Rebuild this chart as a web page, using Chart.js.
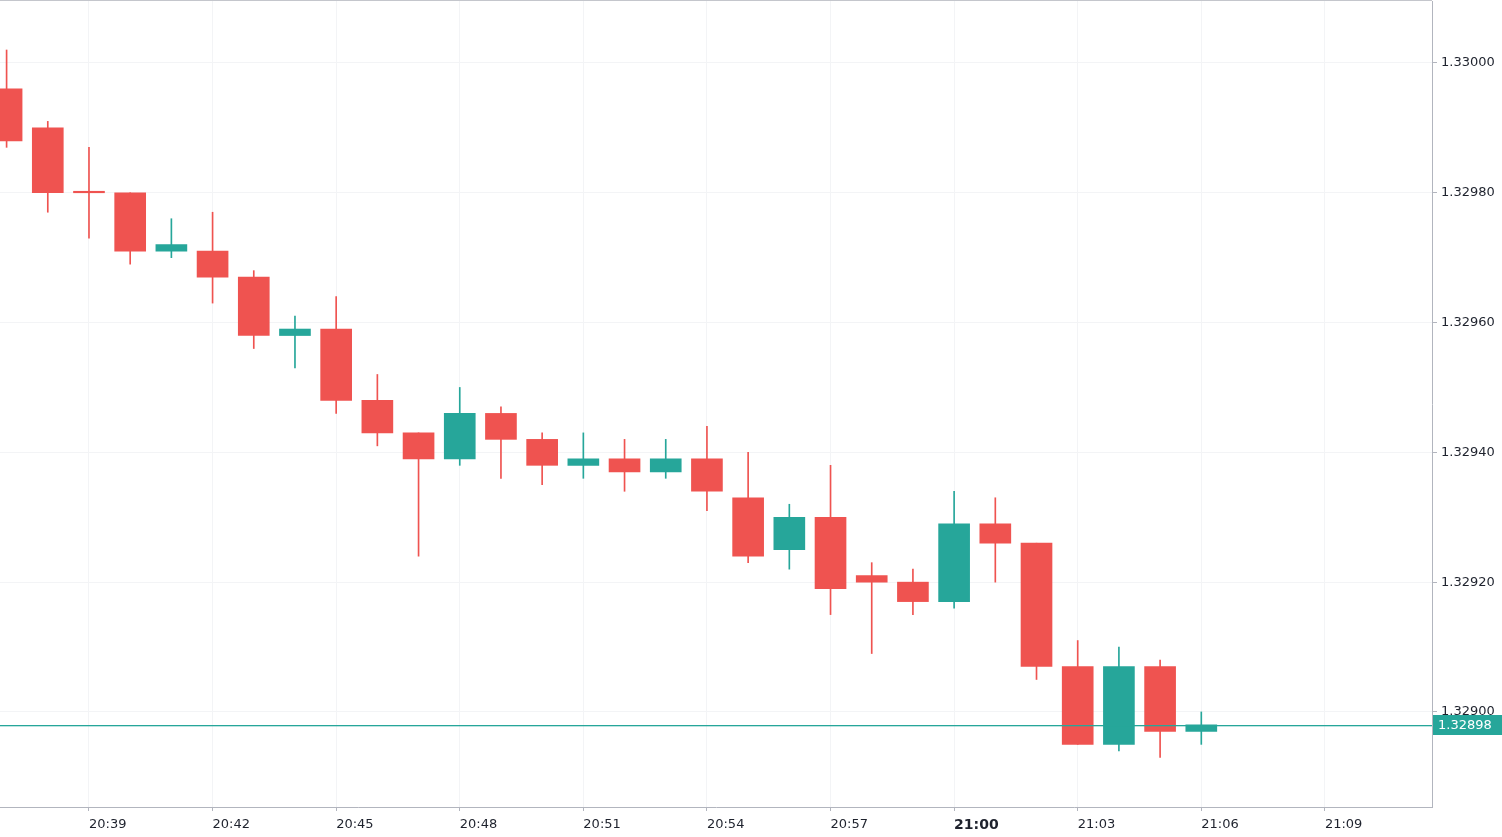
<!DOCTYPE html>
<html lang="en">
<head>
  <meta charset="UTF-8">
  <title>Candles 1m</title>
  <script src="https://cdn.jsdelivr.net/npm/chart.js"></script>
  <style>
    html, body { margin: 0; padding: 0; background: #fff; }
    #box { width: 1502px; height: 837px; }
  </style>
</head>
<body>
  <div id="box"><canvas id="candleChart"></canvas></div>

  <script>
    // minute candles, 20:37 .. 21:06
    const times = ['20:37','20:38','20:39','20:40','20:41','20:42','20:43','20:44','20:45','20:46',
                   '20:47','20:48','20:49','20:50','20:51','20:52','20:53','20:54','20:55','20:56',
                   '20:57','20:58','20:59','21:00','21:01','21:02','21:03','21:04','21:05','21:06'];
    const opens  = [1.32996,1.32990,1.32980,1.32980,1.32971,1.32971,1.32967,1.32958,1.32959,1.32948,
                    1.32943,1.32939,1.32946,1.32942,1.32938,1.32939,1.32937,1.32939,1.32933,1.32925,
                    1.32930,1.32921,1.32920,1.32917,1.32929,1.32926,1.32907,1.32895,1.32907,1.32897];
    const highs  = [1.33002,1.32991,1.32987,1.32980,1.32976,1.32977,1.32968,1.32961,1.32964,1.32952,
                    1.32943,1.32950,1.32947,1.32943,1.32943,1.32942,1.32942,1.32944,1.32940,1.32932,
                    1.32938,1.32923,1.32922,1.32934,1.32933,1.32926,1.32911,1.32910,1.32908,1.32900];
    const lows   = [1.32987,1.32977,1.32973,1.32969,1.32970,1.32963,1.32956,1.32953,1.32946,1.32941,
                    1.32924,1.32938,1.32936,1.32935,1.32936,1.32934,1.32936,1.32931,1.32923,1.32922,
                    1.32915,1.32909,1.32915,1.32916,1.32920,1.32905,1.32895,1.32894,1.32893,1.32895];
    const closes = [1.32988,1.32980,1.32980,1.32971,1.32972,1.32967,1.32958,1.32959,1.32948,1.32943,
                    1.32939,1.32946,1.32942,1.32938,1.32939,1.32937,1.32939,1.32934,1.32924,1.32930,
                    1.32919,1.32920,1.32917,1.32929,1.32926,1.32907,1.32895,1.32907,1.32897,1.32898];

    const timeTicks = ['20:39','20:42','20:45','20:48','20:51','20:54','20:57','21:00','21:03','21:06','21:09'];
    const priceTicks = [1.33000, 1.32980, 1.32960, 1.32940, 1.32920, 1.32900];
    const lastPrice = 1.32898;

    const UP = '#26a69a';
    const DOWN = '#ef5350';

    const toMin = t => { const p = t.split(':'); return (+p[0]) * 60 + (+p[1]); };
    const candleColor = times.map((t, i) => closes[i] > opens[i] ? UP : DOWN);

    // pin chart area to fixed axis sizes
    function fixAxis(size) {
      return function (scale) {
        if (scale.isHorizontal()) scale.height = size; else scale.width = size;
        scale.paddingTop = 0; scale.paddingBottom = 0;
        scale.paddingLeft = 0; scale.paddingRight = 0;
      };
    }

    const priceLine = {
      id: 'priceLine',
      afterDatasetsDraw(chart) {
        const { ctx, chartArea } = chart;
        const y = Math.round(chart.scales.y.getPixelForValue(lastPrice));
        ctx.save();
        ctx.fillStyle = UP;
        ctx.fillRect(chartArea.left, y, chartArea.right - chartArea.left, 1.3);
        // top frame line
        ctx.fillStyle = '#c4c6cc';
        ctx.fillRect(chartArea.left, 0, chartArea.right - chartArea.left, 1);
        ctx.restore();
      },
      afterDraw(chart) {
        const { ctx, chartArea, width } = chart;
        const y = Math.round(chart.scales.y.getPixelForValue(lastPrice));
        ctx.save();
        ctx.fillStyle = UP;
        ctx.fillRect(chartArea.right + 1, y - 10, width - chartArea.right - 1, 20);
        ctx.fillStyle = '#ffffff';
        ctx.font = '13px "DejaVu Sans"';
        ctx.textBaseline = 'middle';
        ctx.textAlign = 'left';
        ctx.fillText(lastPrice.toFixed(5), chartArea.right + 6, y + 1);
        ctx.restore();
      }
    };

    const ctx = document.getElementById('candleChart').getContext('2d');
    const candleChart = new Chart(ctx, {
      type: 'bar',
      data: {
        datasets: [
          {
            label: 'wick',
            data: times.map((t, i) => ({ x: toMin(t), y: [lows[i], highs[i]] })),
            backgroundColor: candleColor,
            barThickness: 1,
            grouped: false,
            order: 2
          },
          {
            label: 'body',
            data: times.map((t, i) => ({ x: toMin(t), y: [opens[i], closes[i]] })),
            backgroundColor: candleColor,
            barThickness: 31,
            minBarLength: 1.5,
            grouped: false,
            order: 1
          }
        ]
      },
      options: {
        responsive: true,
        maintainAspectRatio: false,
        animation: false,
        layout: { padding: { top: 1, left: 0, right: 0, bottom: 0 } },
        plugins: { legend: { display: false }, tooltip: { enabled: false } },
        scales: {
          x: {
            type: 'linear',
            bounds: 'data',
            offset: false,
            min: 1236.84,
            max: 1271.6,
            afterBuildTicks: axis => { axis.ticks = timeTicks.map(l => ({ value: toMin(l) })); },
            afterFit: fixAxis(30),
            grid: { offset: false, color: '#f3f4f6', tickColor: '#b2b5be', tickLength: 4 },
            border: { color: '#b2b5be' },
            ticks: {
              align: 'start',
              autoSkip: false,
              maxRotation: 0,
              padding: 6,
              color: '#1e222d',
              font: c => (c.tick && c.tick.value === 1260)
                ? { family: 'DejaVu Sans', size: 14, weight: 'bold' }
                : { family: 'DejaVu Sans', size: 13 },
              callback: (v, i) => timeTicks[i]
            }
          },
          y: {
            type: 'linear',
            position: 'right',
            min: 1.3288535,
            max: 1.3300955,
            afterBuildTicks: axis => { axis.ticks = priceTicks.map(v => ({ value: v })); },
            afterFit: fixAxis(70),
            grid: { color: '#f3f4f6', tickColor: '#b2b5be', tickLength: 5 },
            border: { color: '#b2b5be' },
            ticks: {
              padding: 4,
              color: '#1e222d',
              font: { family: 'DejaVu Sans', size: 13 },
              callback: v => Number(v).toFixed(5)
            }
          }
        }
      },
      plugins: [priceLine]
    });
  </script>
</body>
</html>
